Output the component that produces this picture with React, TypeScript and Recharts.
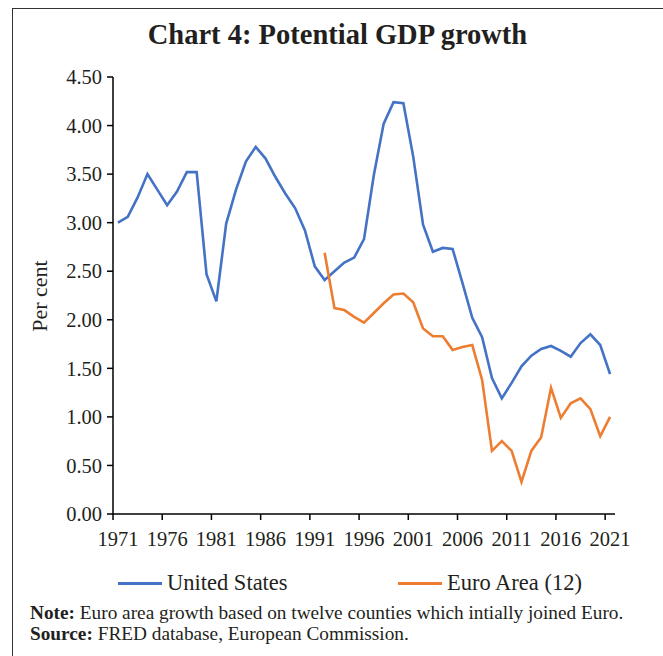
import React from "react";
import { LineChart, Line, XAxis, YAxis } from "recharts";

const years = Array.from({ length: 51 }, (_, i) => 1971 + i);

const usGrowth = [
  3.0, 3.06, 3.26, 3.5, 3.34, 3.18, 3.32, 3.52, 3.52, 2.47,
  2.19, 2.99, 3.34, 3.63, 3.78, 3.66, 3.47, 3.3, 3.15, 2.92,
  2.55, 2.41, 2.5, 2.59, 2.64, 2.83, 3.49, 4.02, 4.24, 4.23,
  3.68, 2.98, 2.7, 2.74, 2.73, 2.38, 2.02, 1.82, 1.4, 1.19,
  1.35, 1.52, 1.63, 1.7, 1.73, 1.68, 1.62, 1.76, 1.85, 1.74,
  1.44,
];

// starts in 1992
const euroGrowth = [
  2.69, 2.12, 2.1, 2.03, 1.97, 2.07, 2.17, 2.26, 2.27, 2.18,
  1.91, 1.83, 1.83, 1.69, 1.72, 1.74, 1.38, 0.65, 0.75, 0.65,
  0.33, 0.65, 0.79, 1.3, 0.99, 1.14, 1.19, 1.08, 0.8, 1.0,
];
const euroStart = 1992;

const xTicks = [1971, 1976, 1981, 1986, 1991, 1996, 2001, 2006, 2011, 2016, 2021];
const yTicks = [0, 0.5, 1, 1.5, 2, 2.5, 3, 3.5, 4, 4.5];

const data = years.map((year, i) => ({
  year,
  us: usGrowth[i],
  euro: year >= euroStart ? euroGrowth[year - euroStart] : null,
}));

const FONT = '"Liberation Serif", "DejaVu Serif", serif';
const TEXT = "#231f20";
const CHART_W = 663;
const CHART_H = 560;
const MARGIN = { top: 77, right: 48, left: 53, bottom: 16 };
const Y_AXIS_W = 60;
const PLOT_W = CHART_W - MARGIN.left - MARGIN.right - Y_AXIS_W;
const HALF_STEP = PLOT_W / years.length / 2;

const YearTick = (props: any) => {
  const { x, y, payload } = props;
  return (
    <g>
      <line x1={x - HALF_STEP} x2={x - HALF_STEP} y1={y} y2={y + 6} stroke="#000" strokeWidth={1.5} />
      <text x={x} y={y + 32} textAnchor="middle" fontSize={20.5} fontFamily={FONT} fill={TEXT}>
        {payload.value}
      </text>
    </g>
  );
};

const LegendItem = ({ color, label, left }: { color: string; label: string; left: number }) => (
  <div style={{ position: "absolute", left, top: 570, display: "flex", alignItems: "center" }}>
    <div style={{ width: 44, height: 3, background: color, marginRight: 5 }} />
    <span style={{ fontSize: 22.5, fontFamily: FONT, color: TEXT }}>{label}</span>
  </div>
);

export default function App() {
  return (
    <div style={{ position: "absolute", left: 0, top: 0, width: 663, height: 656, background: "#fff", overflow: "hidden" }}>
      <div style={{ position: "absolute", left: 12, top: 8, right: 0, height: 0, borderTop: "1.5px solid #333" }} />
      <div style={{ position: "absolute", left: 12, top: 8, bottom: 0, width: 0, borderLeft: "1.5px solid #333" }} />
      <div
        style={{
          position: "absolute",
          left: 0,
          width: 675,
          top: 19,
          textAlign: "center",
          fontFamily: FONT,
          fontWeight: "bold",
          fontSize: 28.5,
          color: TEXT,
        }}
      >
        Chart 4: Potential GDP growth
      </div>
      <div
        style={{
          position: "absolute",
          left: 40,
          top: 296,
          transform: "translate(-50%, -50%) rotate(-90deg)",
          fontFamily: FONT,
          fontSize: 22,
          color: TEXT,
          whiteSpace: "nowrap",
        }}
      >
        Per cent
      </div>
      <div style={{ position: "absolute", left: 0, top: 0 }}>
        <LineChart width={CHART_W} height={CHART_H} data={data} margin={MARGIN}>
          <XAxis
            dataKey="year"
            type="number"
            domain={[1970.5, 2021.5]}
            ticks={xTicks}
            interval={0}
            tickLine={false}
            tickSize={0}
            tickMargin={0}
            tick={<YearTick />}
            axisLine={{ stroke: "#000", strokeWidth: 1.5 }}
            height={30}
          />
          <YAxis
            type="number"
            domain={[0, 4.5]}
            ticks={yTicks}
            interval={0}
            width={Y_AXIS_W}
            tickSize={6}
            tickMargin={5}
            tickLine={{ stroke: "#000", strokeWidth: 1.5 }}
            axisLine={{ stroke: "#000", strokeWidth: 1.5 }}
            tickFormatter={(v: number) => v.toFixed(2)}
            tick={{ fontSize: 20.5, fontFamily: FONT, fill: TEXT }}
          />
          <Line
            type="linear"
            dataKey="us"
            stroke="#4472C4"
            strokeWidth={2.6}
            dot={false}
            isAnimationActive={false}
          />
          <Line
            type="linear"
            dataKey="euro"
            stroke="#ED7D31"
            strokeWidth={2.6}
            dot={false}
            connectNulls={false}
            isAnimationActive={false}
          />
        </LineChart>
      </div>
      <LegendItem color="#4472C4" label="United States" left={118} />
      <LegendItem color="#ED7D31" label="Euro Area (12)" left={398} />
      <div style={{ position: "absolute", left: 30, top: 602, fontFamily: FONT, fontSize: 19.3, color: TEXT, lineHeight: "21px" }}>
        <div>
          <b>Note:</b> Euro area growth based on twelve counties which intially joined Euro.
        </div>
        <div>
          <b>Source:</b> FRED database, European Commission.
        </div>
      </div>
    </div>
  );
}
